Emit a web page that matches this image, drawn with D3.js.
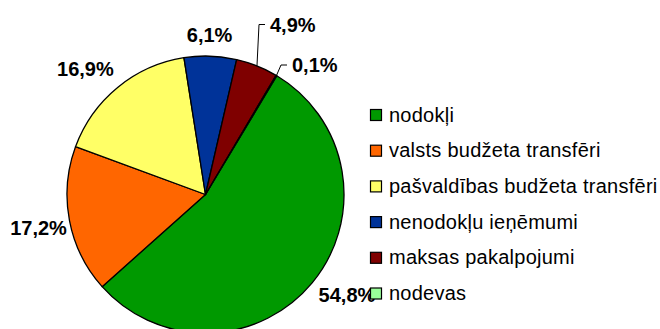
<!DOCTYPE html>
<html>
<head>
<meta charset="utf-8">
<script src="https://cdn.jsdelivr.net/npm/d3@7"></script>
<style>
  html, body { margin: 0; padding: 0; background: #fff; }
  svg { display: block; }
</style>
</head>
<body>
<svg id="chart" width="660" height="329"></svg>
<script>
// Revenue structure (share of total, %)
const categories = [
  "nodokļi",
  "valsts budžeta transfēri",
  "pašvaldības budžeta transfēri",
  "nenodokļu ieņēmumi",
  "maksas pakalpojumi",
  "nodevas"
];
const shares = [54.8, 17.2, 16.9, 6.1, 4.9, 0.1];
const colors = ["#009900", "#FF6600", "#FFFF66", "#003399", "#7F0000", "#99FF99"];

const svg = d3.select("#chart");
const W = 660, H = 329;
const cx = 205.5, cy = 194.5, R = 138.5;
const startDeg = 31;

const data = categories.map((c, i) => ({ name: c, value: shares[i], color: colors[i] }));

const pie = d3.pie()
  .sort(null)
  .value(d => d.value)
  .startAngle(startDeg * Math.PI / 180)
  .endAngle(startDeg * Math.PI / 180 + 2 * Math.PI);

const arcs = pie(data);
const arc = d3.arc().innerRadius(0).outerRadius(R);

const g = svg.append("g").attr("transform", `translate(${cx},${cy})`);

g.selectAll("path.slice")
  .data(arcs)
  .join("path")
  .attr("class", "slice")
  .attr("d", arc)
  .attr("fill", d => d.data.color)
  .attr("stroke", "#000")
  .attr("stroke-width", 1.3)
  .attr("stroke-linejoin", "round");

const fmt = v => v.toFixed(1).replace(".", ",") + "%";
const mid = d => (d.startAngle + d.endAngle) / 2;

// Label placement: plain labels sit on a ring around the pie (with small nudges),
// narrow slices get a leader line to a label placed above/right.
const labelRing = 172;
const nudges = [[9, -9], [2, 1], [-11, 7], [-2, 12], null, null];
const leaderText = [null, null, null, null, [64.5, -170], [86.5, -129.5]];

const labelFont = "bold 20px 'Liberation Sans', Arial, sans-serif";

arcs.forEach((d, i) => {
  const a = mid(d);
  const sx = Math.sin(a), sy = -Math.cos(a);
  if (leaderText[i]) {
    const [tx, ty] = leaderText[i];
    const ex = R * sx, ey = R * sy;
    g.append("path")
      .attr("d", d3.line()([[ex, ey], [tx - 11, ty], [tx - 5, ty]]))
      .attr("fill", "none")
      .attr("stroke", "#000")
      .attr("stroke-width", 1);
    g.append("text")
      .attr("x", tx)
      .attr("y", ty + 7)
      .attr("text-anchor", "start")
      .style("font", labelFont)
      .attr("fill", "#000")
      .text(fmt(d.data.value));
  } else {
    const [nx, ny] = nudges[i];
    g.append("text")
      .attr("x", labelRing * sx + nx)
      .attr("y", labelRing * sy + ny + 7)
      .attr("text-anchor", "middle")
      .style("font", labelFont)
      .attr("fill", "#000")
      .text(fmt(d.data.value));
  }
});

// Legend
const legendY = d3.scalePoint()
  .domain(categories)
  .range([115.5, 294]);

const legend = svg.append("g").attr("class", "legend");
const items = legend.selectAll("g")
  .data(data)
  .join("g")
  .attr("transform", d => `translate(370,${legendY(d.name)})`);

items.append("rect")
  .attr("x", 0.5)
  .attr("y", -6)
  .attr("width", 11)
  .attr("height", 11)
  .attr("fill", d => d.color)
  .attr("stroke", "#000")
  .attr("stroke-width", 1.2);

items.append("text")
  .attr("x", 19)
  .attr("y", 6)
  .style("font", "20px 'Liberation Sans', Arial, sans-serif")
  .style("letter-spacing", "0.25px")
  .attr("fill", "#000")
  .text(d => d.name);
</script>
</body>
</html>
